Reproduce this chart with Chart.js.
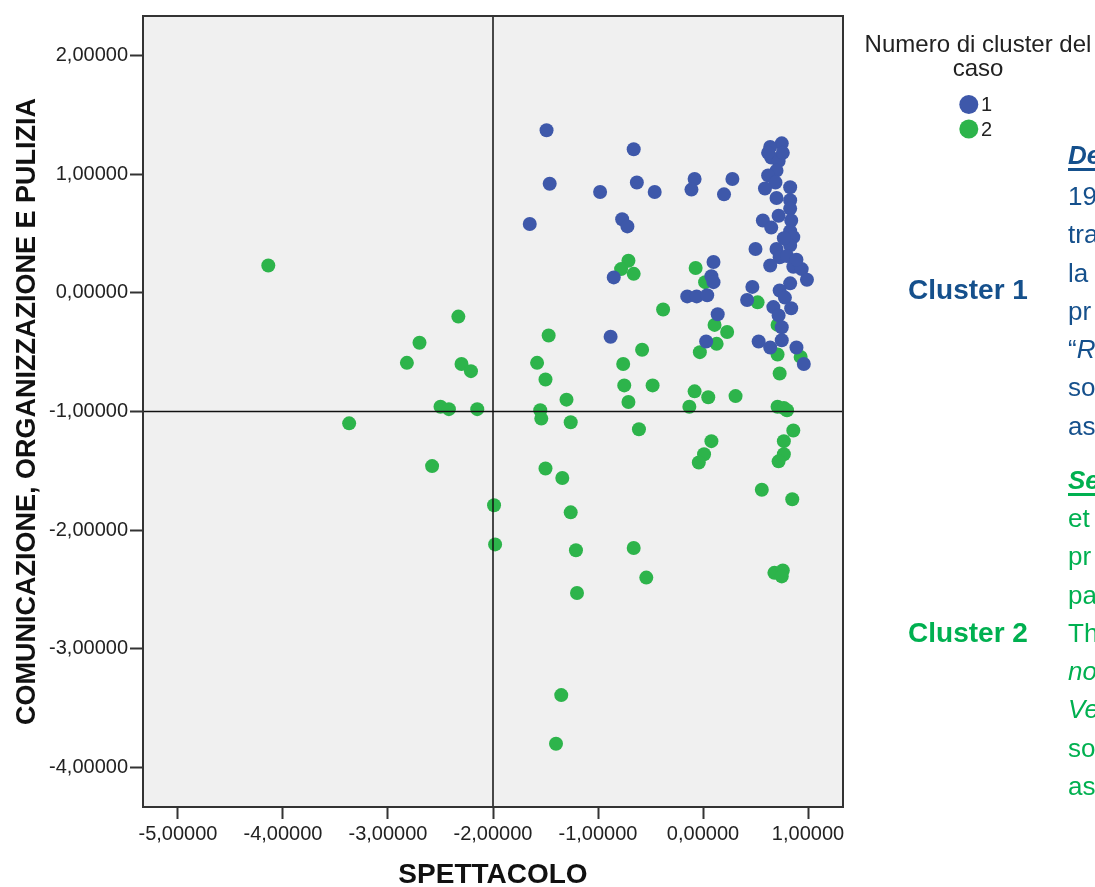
<!DOCTYPE html>
<html>
<head>
<meta charset="utf-8">
<script src="https://cdn.jsdelivr.net/npm/chart.js@4.4.0/dist/chart.umd.min.js"></script>
<style>
  html, body { margin: 0; padding: 0; background: #fff; }
  body { width: 1095px; height: 887px; overflow: hidden; position: relative; font-family: "Liberation Sans", Arial, sans-serif; }
  #myChart { position: absolute; left: 0; top: 0; }
  .clabel { position: absolute; font-weight: bold; font-size: 28px; line-height: 1; white-space: nowrap; transform: translate(-50%, -50%); }
  .col { position: absolute; left: 1068px; font-size: 26px; line-height: 38.3px; white-space: nowrap; }
  .head { font-weight: bold; font-style: italic; text-decoration: underline; text-decoration-thickness: 3px; text-underline-offset: 4px; }
  .blue { color: #15508c; }
  .green { color: #00b050; }
</style>
</head>
<body>
<canvas id="myChart" width="1095" height="887"></canvas>

<div class="clabel blue" style="left:968px; top:290px;">Cluster 1</div>
<div class="clabel green" style="left:968px; top:633px;">Cluster 2</div>

<div class="col blue head" style="top:136px;">De</div>
<div class="col blue" style="top:177px;">19<br>tra<br>la<br>pr<br>“<i>R</i><br>so<br>as</div>

<div class="col green head" style="top:461px;">Se</div>
<div class="col green" style="top:499px;">et<br>pr<br>pa<br>Th<br><i>no</i><br><i>Ve</i><br>so<br>as</div>

<script>
// tick values on both axes
const xTickValues = [-5, -4, -3, -2, -1, 0, 1];
const yTickValues = [2, 1, 0, -1, -2, -3, -4];

// reference lines
const refX = -2;
const refY = -1;

// cluster 1 (blue)
const cluster1X = [-1.49, -0.66, -1.46, -0.98, -0.63, -0.46, -0.08, -0.11, 0.20, 0.28,
  -1.65, -0.77, -0.72, -0.85, 0.10, 0.08, 0.10, -0.15, -0.06, 0.04,
  0.14, 0.47, 0.42, 0.03, -0.88, 0.75, 0.64, 0.65, 0.72, 0.70,
  0.62, 0.69, 0.59, 0.83, 0.83, 0.83, 0.72, 0.57, 0.65, 0.84,
  0.83, 0.86, 0.83, 0.70, 0.50, 0.73, 0.80, 0.64, 0.86, 0.94,
  0.99, 0.83, 0.73, 0.67, 0.78, 0.84, 0.72, 0.75, 0.75, 0.53,
  0.64, 0.89, 0.96, 0.62, 0.76, 0.70, 0.77, 0.89];
const cluster1Y = [1.37, 1.21, 0.92, 0.85, 0.93, 0.85, 0.96, 0.87, 0.83, 0.96,
  0.58, 0.62, 0.56, 0.13, 0.26, 0.14, 0.09, -0.03, -0.03, -0.02,
  -0.18, 0.05, -0.06, -0.41, -0.37, 1.26, 1.23, 1.14, 1.11, 1.03,
  0.99, 0.93, 0.88, 0.89, 0.78, 0.71, 0.65, 0.61, 0.55, 0.61,
  0.52, 0.47, 0.40, 0.37, 0.37, 0.30, 0.31, 0.23, 0.22, 0.20,
  0.11, 0.08, 0.02, -0.12, -0.04, -0.13, -0.19, -0.29, -0.40, -0.41,
  -0.46, -0.46, -0.60, 1.18, 1.18, 0.80, 0.46, 0.28];

// cluster 2 (green)
const cluster2X = [-4.14, -0.71, -0.78, -0.66, -0.07, 0.02, -0.38, 0.52, 0.11, 0.23,
  0.13, -0.03, -1.47, -0.58, -2.33, -2.70, -1.58, -0.76, -2.82, -2.30,
  -2.21, -1.50, -0.75, -0.48, -1.30, -0.71, -0.08, 0.05, 0.31, -0.13,
  0.71, 0.71, 0.93, 0.73, 0.71, 0.77, 0.80, -2.50, -2.42, -2.15,
  -1.55, -1.54, -1.26, -0.61, 0.86, 0.08, 0.77, 0.01, -0.04, 0.77,
  0.72, -3.37, -2.58, -1.50, -1.34, -1.99, -1.26, 0.56, 0.85, -1.98,
  -1.21, -0.66, -0.54, -1.20, 0.68, 0.76, 0.75, -1.35, -1.40];
const cluster2Y = [0.23, 0.27, 0.20, 0.16, 0.21, 0.09, -0.14, -0.08, -0.27, -0.33,
  -0.43, -0.50, -0.36, -0.48, -0.20, -0.42, -0.59, -0.60, -0.59, -0.60,
  -0.66, -0.73, -0.78, -0.78, -0.90, -0.92, -0.83, -0.88, -0.87, -0.96,
  -0.27, -0.52, -0.54, -0.68, -0.96, -0.97, -0.99, -0.96, -0.98, -0.98,
  -0.99, -1.06, -1.09, -1.15, -1.16, -1.25, -1.25, -1.36, -1.43, -1.36,
  -1.42, -1.10, -1.46, -1.48, -1.56, -1.79, -1.85, -1.66, -1.74, -2.12,
  -2.17, -2.15, -2.40, -2.53, -2.36, -2.34, -2.39, -3.39, -3.80];

const tickFont = { family: 'Liberation Sans', size: 20 };
const fmt = v => Number(v).toFixed(5).replace('.', ',');

const plotFrame = {
  id: 'plotFrame',
  beforeDatasetsDraw(chart) {
    const { ctx, chartArea: a } = chart;
    ctx.save();
    ctx.fillStyle = '#f0f0f0';
    ctx.fillRect(a.left, a.top, a.right - a.left, a.bottom - a.top);
    ctx.restore();
  },
  afterDatasetsDraw(chart) {
    const { ctx, chartArea: a, scales } = chart;
    const px = scales.x.getPixelForValue(refX);
    const py = scales.y.getPixelForValue(refY);
    ctx.save();
    ctx.strokeStyle = '#111';
    ctx.lineWidth = 1.5;
    ctx.beginPath();
    ctx.moveTo(px, a.top); ctx.lineTo(px, a.bottom);
    ctx.moveTo(a.left, py); ctx.lineTo(a.right, py);
    ctx.stroke();
    ctx.strokeStyle = '#333';
    ctx.lineWidth = 2;
    ctx.strokeRect(a.left, a.top, a.right - a.left, a.bottom - a.top);
    ctx.restore();
  }
};

const sideLegend = {
  id: 'sideLegend',
  afterDraw(chart) {
    const ctx = chart.ctx;
    ctx.save();
    ctx.fillStyle = '#222';
    ctx.font = '24px "Liberation Sans"';
    ctx.textAlign = 'center';
    ctx.textBaseline = 'middle';
    ctx.fillText('Numero di cluster del', 978, 45);
    ctx.fillText('caso', 978, 69);
    ctx.font = '20px "Liberation Sans"';
    ctx.textAlign = 'left';
    chart.data.datasets.forEach((ds, i) => {
      const y = 104.5 + i * 24.5;
      ctx.fillStyle = ds.backgroundColor;
      ctx.beginPath();
      ctx.arc(968.8, y, 9.5, 0, Math.PI * 2);
      ctx.fill();
      ctx.fillStyle = '#222';
      ctx.fillText(ds.label, 981, y + 1);
    });
    ctx.restore();
  }
};

const data = {
  datasets: [
    {
      label: '1',
      data: cluster1X.map((x, i) => ({ x: x, y: cluster1Y[i] })),
      backgroundColor: '#3e58aa',
      borderWidth: 0,
      pointRadius: 7,
    },
    {
      label: '2',
      data: cluster2X.map((x, i) => ({ x: x, y: cluster2Y[i] })),
      backgroundColor: '#2db44b',
      borderWidth: 0,
      pointRadius: 7,
    },
  ],
};

new Chart(document.getElementById('myChart'), {
  type: 'scatter',
  data: data,
  options: {
    responsive: false,
    animation: false,
    devicePixelRatio: 1,
    layout: { padding: { left: 0, top: 16, right: 252, bottom: 0 } },
    plugins: { legend: { display: false }, tooltip: { enabled: false } },
    scales: {
      x: {
        type: 'linear',
        min: -5.3333,
        max: 1.3333,
        afterBuildTicks: s => { s.ticks = xTickValues.map(v => ({ value: v })); },
        afterFit: s => { s.height = 80; },
        ticks: { font: tickFont, color: '#222', padding: 3, maxRotation: 0, callback: fmt },
        grid: { drawOnChartArea: false, drawTicks: true, tickLength: 12, tickWidth: 2, tickColor: '#333' },
        border: { display: false },
        title: {
          display: true,
          text: 'SPETTACOLO',
          color: '#111',
          font: { family: 'Liberation Sans', size: 28, weight: 'bold', lineHeight: 0.85 },
          padding: { top: 0, bottom: 0 },
        },
      },
      y: {
        type: 'linear',
        min: -4.3333,
        max: 2.3333,
        afterBuildTicks: s => { s.ticks = yTickValues.map(v => ({ value: v })); },
        afterFit: s => { s.width = 143; },
        ticks: { font: tickFont, color: '#222', padding: 2, callback: fmt },
        grid: { drawOnChartArea: false, drawTicks: true, tickLength: 13, tickWidth: 2, tickColor: '#333' },
        border: { display: false },
        title: {
          display: true,
          text: 'COMUNICAZIONE, ORGANIZZAZIONE E PULIZIA',
          color: '#111',
          font: { family: 'Liberation Sans', size: 27, weight: 'bold', lineHeight: 1.2 },
          padding: { top: 11, bottom: 0 },
        },
      },
    },
  },
  plugins: [plotFrame, sideLegend],
});
</script>
</body>
</html>
